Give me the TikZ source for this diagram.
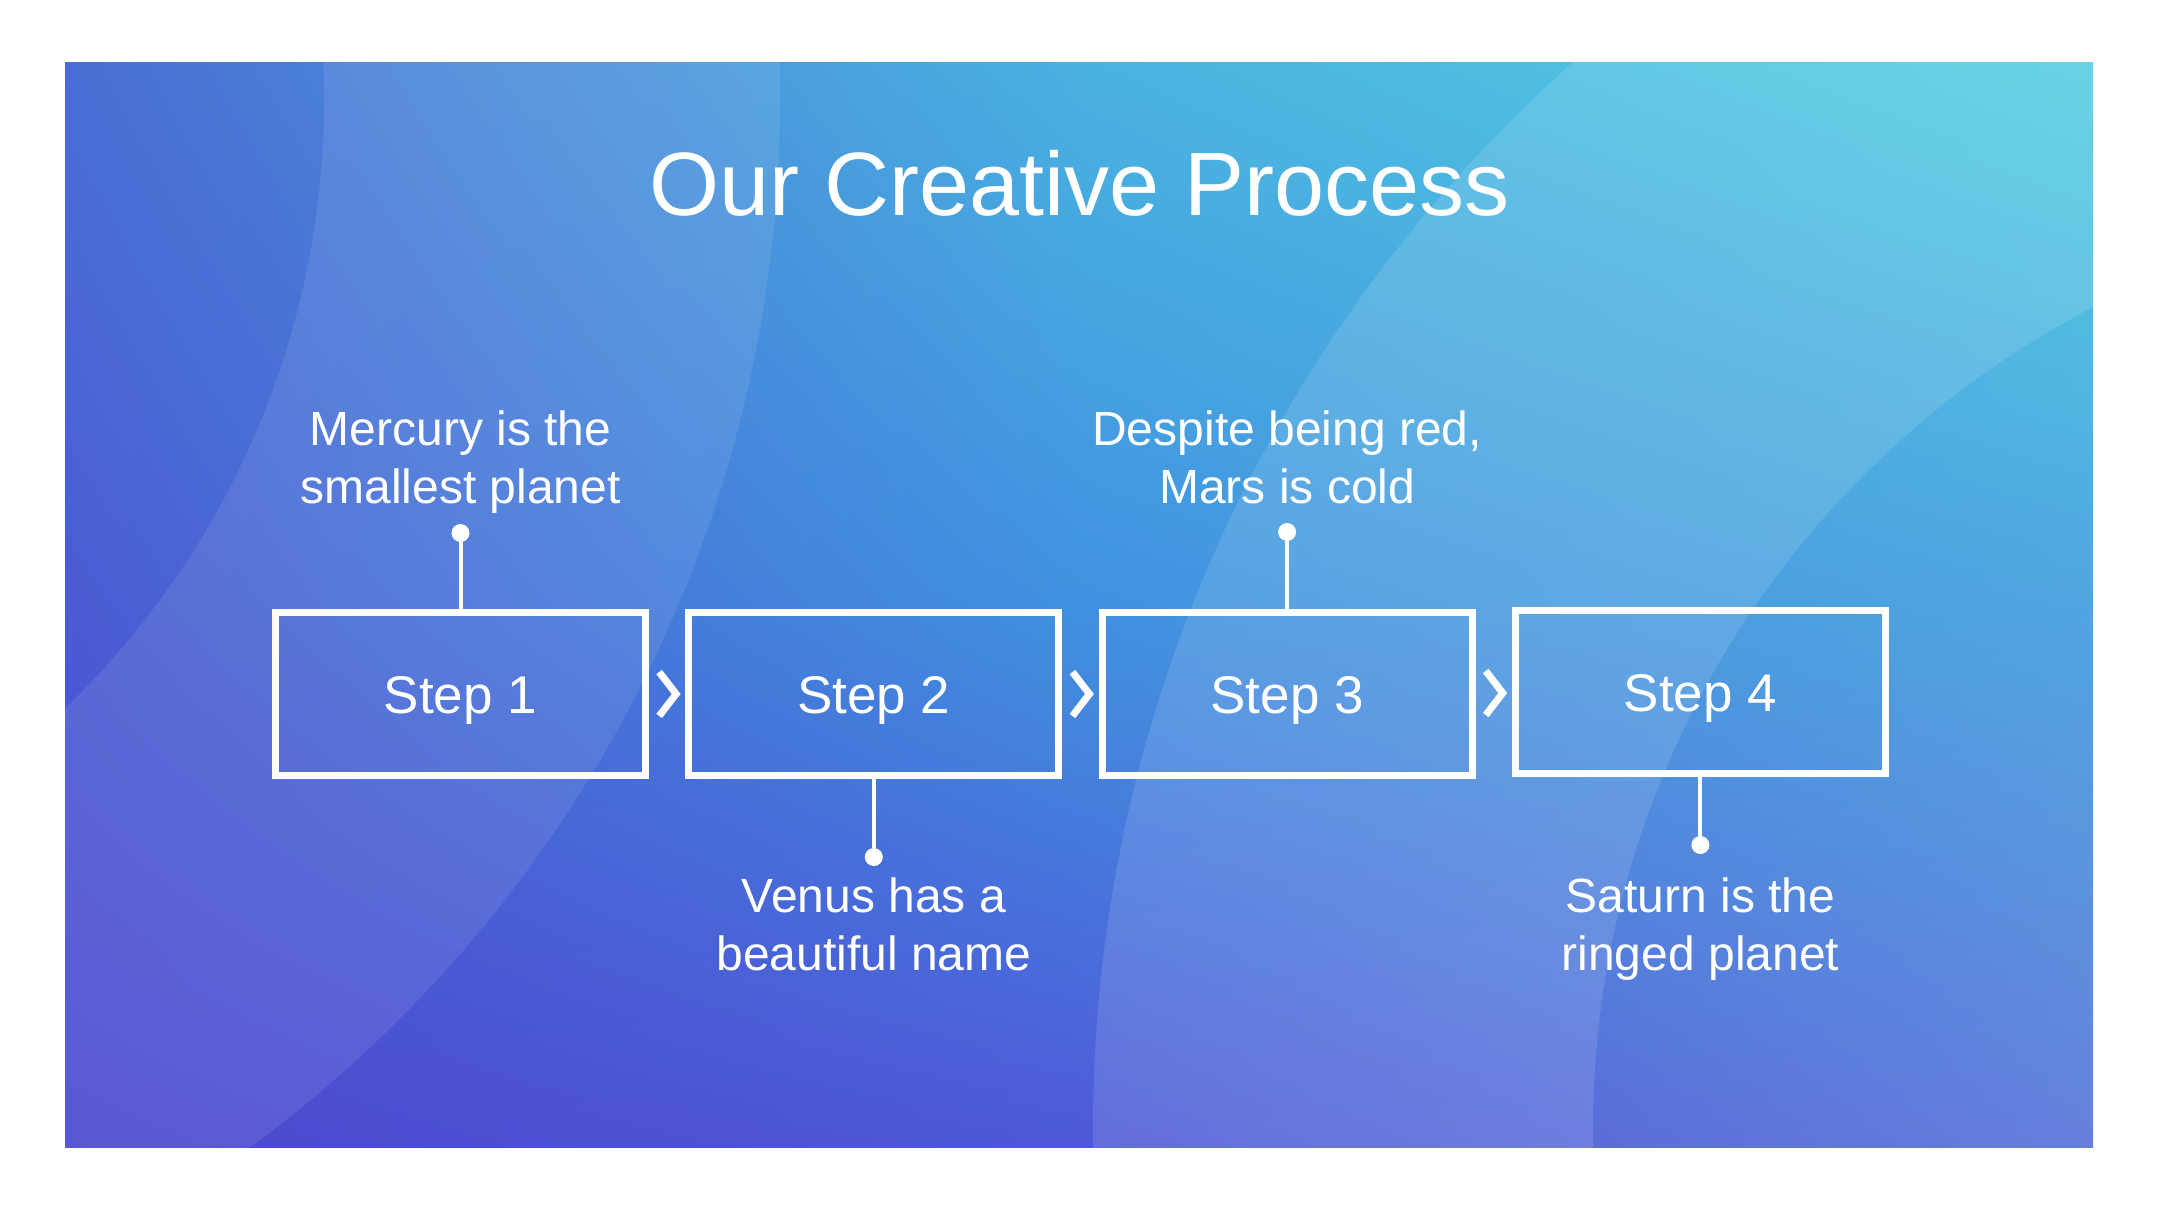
\documentclass[tikz,border=0pt]{standalone}
\usepackage{fontspec}
\setmainfont{Liberation Sans}
\usepackage{tikz}
\usetikzlibrary{calc,shadings}

% background colours, corners / edge middles / centre of the slide
\definecolor{bgUL}{HTML}{4A6ED5}
\definecolor{bgUM}{HTML}{4AB2E0}
\definecolor{bgUR}{HTML}{52CEE2}
\definecolor{bgML}{HTML}{4A5CD2}
\definecolor{bgMM}{HTML}{4092E0}
\definecolor{bgMR}{HTML}{50A6E0}
\definecolor{bgLL}{HTML}{4A47CE}
\definecolor{bgLM}{HTML}{4E58D8}
\definecolor{bgLR}{HTML}{6680DC}

\begin{document}
\begin{tikzpicture}[x=0.5pt, y=-0.5pt,
  stepbox/.style={draw=white, line width=3.5pt, minimum width=185pt, minimum height=81.5pt, text=white, font=\fontsize{26.5}{32}\selectfont, text height=19pt, text depth=0pt},
  note/.style={text=white, align=center, font=\fontsize{24}{29}\selectfont, anchor=base},
  dot/.style={circle, fill=white, inner sep=0pt, minimum size=9pt},
  link/.style={draw=white, line width=2pt},
  chev/.style={draw=white, line width=3.5pt},
  band/.style={white, even odd rule}]
\fill[white] (0,0) rectangle (2160,1215);
\begin{scope}
\clip (65,62) rectangle (2093,1147);
\shade[upper left=bgUL, upper right=bgUM, lower left=bgML, lower right=bgMM] (65,62) rectangle (1080,605);
\shade[upper left=bgUM, upper right=bgUR, lower left=bgMM, lower right=bgMR] (1078,62) rectangle (2093,605);
\shade[upper left=bgML, upper right=bgMM, lower left=bgLL, lower right=bgLM] (65,603) rectangle (1080,1147);
\shade[upper left=bgMM, upper right=bgMR, lower left=bgLM, lower right=bgLR] (1078,603) rectangle (2093,1147);
% light rings
\fill[band, opacity=0.09] (-520,100) circle (650pt) (-520,100) circle (422pt);
\fill[band, opacity=0.12] (2518,1129) circle (712.5pt) (2518,1129) circle (462.5pt);
\end{scope}
\node[text=white, font=\fontsize{45}{54}\selectfont, anchor=base] (title) at (1080,215) {Our Creative Process};
\node[stepbox] (s1) at (460.5,694)  {Step 1};
\node[stepbox] (s2) at (873.8,694)  {Step 2};
\node[stepbox] (s3) at (1287.1,694) {Step 3};
\node[stepbox] (s4) at (1700.4,692) {Step 4};
\node[dot] (d1) at (460.5,533)  {};
\node[dot] (d2) at (873.8,857)  {};
\node[dot] (d3) at (1287.1,532) {};
\node[dot] (d4) at (1700.4,845) {};
\draw[link] (s1.north) -- (d1);
\draw[link] (s2.south) -- (d2);
\draw[link] (s3.north) -- (d3);
\draw[link] (s4.south) -- (d4);
\draw[chev] ($(s1.east)!.5!(s2.west)$) ++(-8,-22) -- ++(17,22) -- ++(-17,22);
\draw[chev] ($(s2.east)!.5!(s3.west)$) ++(-8,-22) -- ++(17,22) -- ++(-17,22);
\draw[chev] ($(s3.east)!.5!(s4.west)$) ++(-8,-22) -- ++(17,22) -- ++(-17,22);
% base = last line
\node[note] (t1) at (460.5,503)  {Mercury is the\\smallest planet};
\node[note] (t2) at (873.8,970)  {Venus has a\\beautiful name};
\node[note] (t3) at (1287.1,503) {Despite being red,\\Mars is cold};
\node[note] (t4) at (1700.4,970) {Saturn is the\\ringed planet};
\end{tikzpicture}
\end{document}
